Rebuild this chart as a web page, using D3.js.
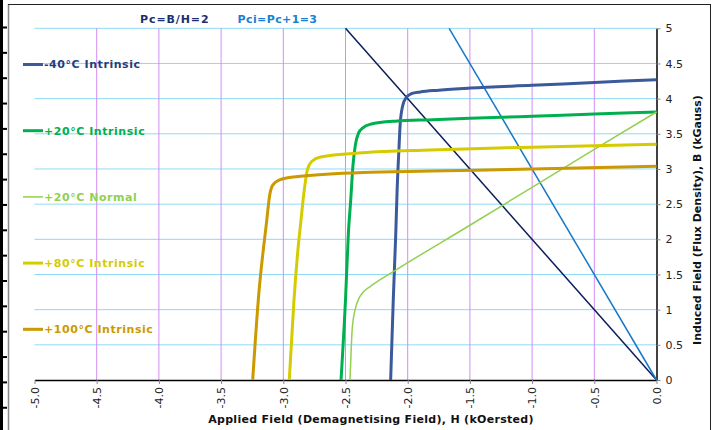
<!DOCTYPE html>
<html>
<head>
<meta charset="utf-8">
<script src="https://cdn.jsdelivr.net/npm/d3@7"></script>
<style>
  body { margin: 0; background: #fff; }
  svg { display: block; font-family: "DejaVu Sans", sans-serif; }
</style>
</head>
<body>
<svg id="chart" width="715" height="430"></svg>
<script>
  // demagnetisation curves, [H (kOe), B (kG)]
  var minus40Intrinsic = [[-2.137,0],[-2.116,1.14],[-2.096,2.08],[-2.085,2.7],[-2.07,3.3],[-2.06,3.65],[-2.04,3.9],[-2.01,4.02],[-1.97,4.07],[-1.9,4.095],[-1.75,4.12],[-1.5,4.15],[-1.0,4.19],[-0.5,4.23],[0,4.27]];
  var plus20Intrinsic = [[-2.536,0],[-2.5,1.14],[-2.477,2.08],[-2.458,2.56],[-2.44,3.05],[-2.42,3.35],[-2.395,3.51],[-2.36,3.585],[-2.3,3.635],[-2.1,3.68],[-1.8,3.70],[-1.5,3.72],[-1.0,3.75],[-0.5,3.78],[0,3.81]];
  var plus20Normal = [[-2.464,0],[-2.455,0.4],[-2.447,0.7],[-2.424,0.99],[-2.397,1.14],[-2.357,1.25],[-2.30,1.33],[-2.116,1.54],[-1.5,2.2],[-1.0,2.74],[-0.5,3.28],[0,3.81]];
  var plus80Intrinsic = [[-2.952,0],[-2.914,1.14],[-2.885,1.8],[-2.858,2.27],[-2.83,2.72],[-2.805,3.0],[-2.77,3.11],[-2.7,3.17],[-2.36,3.23],[-1.82,3.27],[-1.0,3.31],[0,3.35]];
  var plus100Intrinsic = [[-3.246,0],[-3.201,1.14],[-3.133,2.27],[-3.11,2.62],[-3.085,2.77],[-3.03,2.845],[-2.9,2.89],[-2.36,2.95],[-1.82,2.97],[-1.0,3.0],[0,3.04]];
  // load lines
  var loadLinePc = [[-2.5,5],[0,0]];
  var loadLinePci = [[-1.667,5],[0,0]];

  var xTicks = [-5.0,-4.5,-4.0,-3.5,-3.0,-2.5,-2.0,-1.5,-1.0,-0.5,0.0];
  var yTicks = [0,0.5,1,1.5,2,2.5,3,3.5,4,4.5,5];

  var seriesNames = ["-40°C Intrinsic","+20°C Intrinsic","+20°C Normal","+80°C Intrinsic","+100°C Intrinsic"];
  var seriesData = [minus40Intrinsic, plus20Intrinsic, plus20Normal, plus80Intrinsic, plus100Intrinsic];
  var seriesColors = ["#3a5a9c","#00b050","#92d050","#d4cc00","#cc9900"];
  var labelColors = ["#1f3f7f","#00b050","#92d050","#d4cc00","#cc9900"];
  var seriesWidths = [3,3,1.5,3,3];

  var svg = d3.select("#chart");

  // outer frame bits (image is cropped from a bigger sheet)
  svg.append("rect").attr("x",0).attr("y",0).attr("width",3).attr("height",430).attr("fill","#000");
  d3.range(16).forEach(function(i){
    svg.append("rect").attr("x",0).attr("y",26.5 + i*25.35).attr("width",7).attr("height",2).attr("fill","#000");
  });
  svg.append("line").attr("x1",8.5).attr("x2",8.5).attr("y1",4).attr("y2",430).attr("stroke","#888").attr("stroke-width",1.5);
  svg.append("line").attr("x1",8).attr("x2",710.5).attr("y1",4.5).attr("y2",4.5).attr("stroke","#222");
  svg.append("line").attr("x1",710.5).attr("x2",710.5).attr("y1",4).attr("y2",430).attr("stroke","#222");

  var x = d3.scaleLinear().domain([-5,0]).range([34.5,656.5]);
  var y = d3.scaleLinear().domain([0,5]).range([380,28.3]);

  // grid
  svg.append("g").selectAll("line")
    .data(yTicks.filter(function(d){return d > 0;}))
    .enter().append("line")
    .attr("x1",x(-5)).attr("x2",x(0))
    .attr("y1",function(d){return y(d);}).attr("y2",function(d){return y(d);})
    .attr("stroke","#8fdaf6").attr("stroke-width",1);

  svg.append("g").selectAll("line")
    .data(xTicks.filter(function(d){return d > -5 && d < 0;}))
    .enter().append("line")
    .attr("x1",function(d){return x(d);}).attr("x2",function(d){return x(d);})
    .attr("y1",y(5)).attr("y2",y(0))
    .attr("stroke","#d48cf2").attr("stroke-width",1);

  // axes
  var xAxis = svg.append("g")
    .attr("transform","translate(0,"+y(0)+")")
    .call(d3.axisBottom(x).tickValues(xTicks).tickSize(4).tickSizeOuter(0)
      .tickFormat(function(d){return d.toFixed(1);}));
  xAxis.selectAll("text")
    .attr("transform","rotate(-90)")
    .attr("x",-7).attr("y",0).attr("dy","0.35em")
    .style("text-anchor","end");

  var yAxis = svg.append("g")
    .attr("transform","translate("+x(0)+",0)")
    .call(d3.axisRight(y).tickValues(yTicks).tickSize(4).tickSizeOuter(0)
      .tickFormat(function(d){return String(d);}));

  [xAxis, yAxis].forEach(function(a){
    a.select(".domain").attr("stroke","#000").attr("stroke-width",1.5);
    a.selectAll(".tick line").attr("stroke","#888");
    a.selectAll("text").attr("font-size",11).attr("fill","#222").attr("font-family","'DejaVu Sans', sans-serif");
  });
  yAxis.selectAll("text").attr("x",9);

  // curves
  var line = d3.line()
    .x(function(d){return x(d[0]);})
    .y(function(d){return y(d[1]);})
    .curve(d3.curveMonotoneX);

  var straight = d3.line()
    .x(function(d){return x(d[0]);})
    .y(function(d){return y(d[1]);});

  svg.append("path").attr("d",straight(loadLinePc)).attr("fill","none").attr("stroke","#0b1d5a").attr("stroke-width",1.5);
  svg.append("path").attr("d",straight(loadLinePci)).attr("fill","none").attr("stroke","#1478c8").attr("stroke-width",1.5);

  seriesData.forEach(function(s,i){
    svg.append("path").attr("d",line(s))
      .attr("fill","none")
      .attr("stroke",seriesColors[i])
      .attr("stroke-width",seriesWidths[i])
      .attr("stroke-linejoin","round");
  });

  // legend inside the plot
  var legend = svg.append("g").selectAll("g")
    .data(seriesNames)
    .enter().append("g")
    .attr("transform",function(d,i){return "translate(23,"+(64.5 + i*66.2)+")";});
  legend.append("line")
    .attr("x1",0).attr("x2",20).attr("y1",0).attr("y2",0)
    .attr("stroke",function(d,i){return seriesColors[i];})
    .attr("stroke-width",function(d,i){return seriesWidths[i];});
  legend.append("text")
    .attr("x",21).attr("y",0).attr("dy","0.35em")
    .attr("font-size",11).attr("font-weight","bold").attr("letter-spacing",0.55)
    .attr("fill",function(d,i){return labelColors[i];})
    .text(function(d){return d;});

  // load line labels
  svg.append("text").attr("x",140).attr("y",22.5)
    .attr("font-size",11).attr("font-weight","bold").attr("fill","#1b2f6e")
    .attr("letter-spacing",0.9).text("Pc=B/H=2");
  svg.append("text").attr("x",237.5).attr("y",22.5)
    .attr("font-size",11).attr("font-weight","bold").attr("fill","#1a7fd0")
    .attr("letter-spacing",0.4).text("Pci=Pc+1=3");

  // axis titles
  svg.append("text").attr("x",371).attr("y",423)
    .attr("text-anchor","middle").attr("font-size",11).attr("font-weight","bold").attr("fill","#111")
    .attr("letter-spacing",0.3)
    .text("Applied Field (Demagnetising Field), H (kOersted)");
  svg.append("text")
    .attr("transform","translate(701,220) rotate(-90)")
    .attr("text-anchor","middle").attr("font-size",11).attr("font-weight","bold").attr("fill","#111")
    .text("Induced Field (Flux Density), B (kGauss)");
</script>
</body>
</html>
